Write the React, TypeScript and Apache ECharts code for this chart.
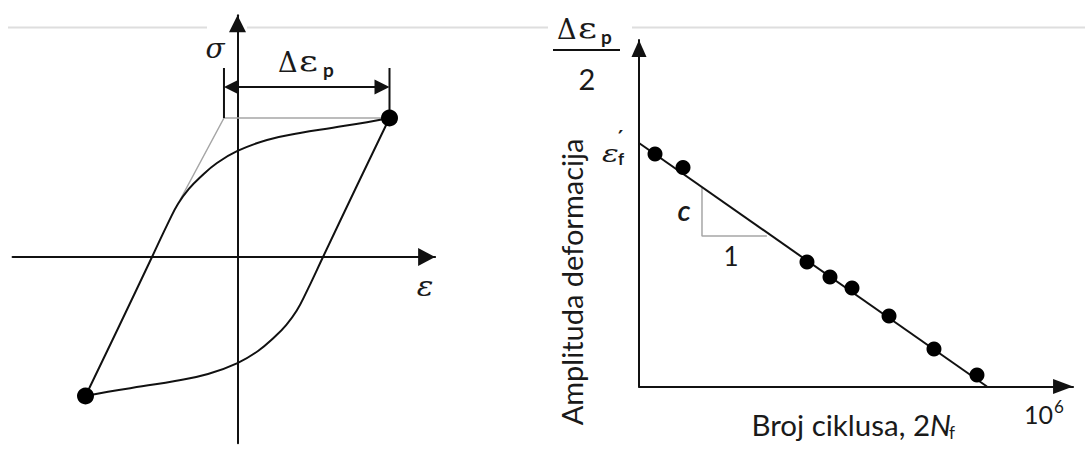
import React, { useEffect, useRef } from "react";
import * as echarts from "echarts";

// ---------- Left diagram: stabilised hysteresis loop (normalised strain ε, stress σ) ----------
const loopRising: [number, number][] = [
  [-1, -1], [-0.78, -0.5], [-0.5625, 0], [-0.45, 0.26], [-0.39, 0.385], [-0.32, 0.49], [-0.247, 0.572],
  [-0.135, 0.676], [0, 0.763], [0.194, 0.842], [0.411, 0.892], [0.628, 0.93], [0.852, 0.97], [1, 1],
];
const loopFalling: [number, number][] = [
  [1, 1], [0.78, 0.5], [0.5625, 0], [0.45, -0.26], [0.39, -0.385], [0.32, -0.49], [0.247, -0.572],
  [0.135, -0.676], [0, -0.763], [-0.194, -0.842], [-0.411, -0.892], [-0.628, -0.93], [-0.852, -0.97], [-1, -1],
];
const loopTips: [number, number][] = [[1, 1], [-1, -1]];
const elasticGuide: [number, number][] = [[1, 1], [-0.089, 1], [-0.378, 0.41]];
const dimTickLeft: [number, number][] = [[-0.089, 1], [-0.089, 1.36]];
const dimTickRight: [number, number][] = [[1, 1], [1, 1.36]];
const dimArrowLevel = 1.223;

// ---------- Right diagram: Coffin–Manson plot (log 2Nf vs log Δεp/2) ----------
const logCycles = [0.238, 0.654, 2.496, 2.838, 3.165, 3.715, 4.383, 5.022];
const logAmplitude = [3.455, 3.254, 1.85, 1.627, 1.464, 1.048, 0.557, 0.171];
const fitLine: [number, number][] = [[0, 3.618], [5.17, 0]];
const slopeTriangle: [number, number][] = [[0.936, 2.95], [0.936, 2.236], [1.9, 2.236]];

// axis extents
const leftX = { min: -1.48, max: 1.3 };
const leftY = { min: -1.34, max: 1.74 };
const rightX = { min: 0, max: 6.45 };
const rightY = { min: 0, max: 5.15 };

const INK = "#111";
const TXT = "#1a1a1a";

function axisStyle(grid: number, r: { min: number; max: number }, arrow: [number, number], onZero: boolean) {
  return {
    type: "value",
    gridIndex: grid,
    min: r.min,
    max: r.max,
    axisLine: {
      show: true,
      onZero,
      symbol: ["none", "triangle"],
      symbolSize: arrow,
      symbolOffset: [0, -arrow[1] / 2],
      lineStyle: { color: INK, width: 2 },
    },
    axisTick: { show: false },
    axisLabel: { show: false },
    splitLine: { show: false },
  };
}

function txt(text: string, x: number, y: number, font: string, align = "left", extra: any = {}) {
  return {
    type: "text",
    x,
    y,
    silent: true,
    ...extra,
    style: { text, font, fill: TXT, textAlign: align, textVerticalAlign: "middle", verticalAlign: "middle" },
  };
}

export default function App() {
  const ref = useRef<HTMLDivElement>(null);
  useEffect(() => {
    if (!ref.current) return;
    const chart = echarts.init(ref.current, null, { renderer: "svg" });
    const pxL = 152, pyL = 139, oxL = 237.5, oyL = 257;
    const pr = 67.3, oxR = 639, oyR = 386.5;
    const arrowHalf = 7.5 / pxL;
    const serif = '"DejaVu Serif", "Liberation Serif", serif';
    const sans = 'Lato, "Open Sans", sans-serif';

    const lineBase = {
      type: "line",
      showSymbol: false,
      symbol: "none",
      silent: true,
      emphasis: { disabled: true },
    };

    chart.setOption({
      animation: false,
      backgroundColor: "#fff",
      grid: [
        {
          left: oxL + leftX.min * pxL,
          width: (leftX.max - leftX.min) * pxL,
          top: oyL - leftY.max * pyL,
          height: (leftY.max - leftY.min) * pyL,
          outerBoundsMode: "none",
          containLabel: false,
        },
        {
          left: oxR,
          width: (rightX.max - rightX.min) * pr,
          top: oyR - rightY.max * pr,
          height: (rightY.max - rightY.min) * pr,
          outerBoundsMode: "none",
          containLabel: false,
        },
      ],
      xAxis: [axisStyle(0, leftX, [18, 17], true), axisStyle(1, rightX, [15, 20], true)],
      yAxis: [axisStyle(0, leftY, [17, 17], true), axisStyle(1, rightY, [15, 17], true)],
      series: [
        { ...lineBase, xAxisIndex: 0, yAxisIndex: 0, data: loopRising, smooth: 0.45, lineStyle: { color: INK, width: 2 } },
        { ...lineBase, xAxisIndex: 0, yAxisIndex: 0, data: loopFalling, smooth: 0.45, lineStyle: { color: INK, width: 2 } },
        { ...lineBase, xAxisIndex: 0, yAxisIndex: 0, data: elasticGuide, z: 1, lineStyle: { color: "#a6a6a6", width: 1.5 } },
        {
          ...lineBase, xAxisIndex: 0, yAxisIndex: 0, data: dimTickLeft, lineStyle: { color: INK, width: 2 },
          markLine: {
            silent: true,
            symbol: ["triangle", "triangle"],
            symbolSize: 15,
            label: { show: false },
            emphasis: { disabled: true },
            lineStyle: { color: INK, width: 2, type: "solid" },
            data: [[
              { coord: [dimTickLeft[0][0] + arrowHalf, dimArrowLevel] },
              { coord: [dimTickRight[0][0] - arrowHalf, dimArrowLevel] },
            ]],
          },
        },
        { ...lineBase, xAxisIndex: 0, yAxisIndex: 0, data: dimTickRight, lineStyle: { color: INK, width: 2 } },
        {
          type: "scatter", xAxisIndex: 0, yAxisIndex: 0, data: loopTips, symbolSize: 17, silent: true,
          itemStyle: { color: "#000", borderWidth: 0, opacity: 1 }, z: 5,
        },
        { ...lineBase, xAxisIndex: 1, yAxisIndex: 1, data: slopeTriangle, lineStyle: { color: "#a6a6a6", width: 1.5 } },
        { ...lineBase, xAxisIndex: 1, yAxisIndex: 1, data: fitLine, clip: false, lineStyle: { color: INK, width: 2 } },
        {
          type: "scatter", xAxisIndex: 1, yAxisIndex: 1, silent: true, z: 5,
          data: logCycles.map((c, i) => [c, logAmplitude[i]]),
          symbolSize: 15,
          itemStyle: { color: "#000", borderWidth: 0, opacity: 1 },
        },
      ],
      graphic: [
        // faint rule across the top
        { type: "line", silent: true, shape: { x1: 8, y1: 27.5, x2: 207, y2: 27.5 }, style: { stroke: "#dedede", lineWidth: 2 } },
        { type: "line", silent: true, shape: { x1: 247, y1: 27.5, x2: 548, y2: 27.5 }, style: { stroke: "#dedede", lineWidth: 2 } },
        { type: "line", silent: true, shape: { x1: 632, y1: 27.5, x2: 1085, y2: 27.5 }, style: { stroke: "#dedede", lineWidth: 2 } },
        // left diagram labels
        txt("σ", 215, 48.5, `italic 28px ${serif}`, "center"),
        txt("Δ", 278, 62, `27px ${serif}`),
        txt("ε", 299, 62, `27px ${serif}`, "left", { scaleX: 1.35 }),
        txt("p", 323, 69, `bold 19px ${sans}`),
        txt("ε", 425, 287, `italic 27px ${serif}`, "center", { scaleX: 1.15 }),
        // right diagram: Δεp / 2
        txt("Δ", 557, 29, `27px ${serif}`),
        txt("ε", 578, 29, `27px ${serif}`, "left", { scaleX: 1.35 }),
        txt("p", 601, 36, `bold 19px ${sans}`),
        { type: "line", silent: true, shape: { x1: 553, y1: 50, x2: 620, y2: 50 }, style: { stroke: INK, lineWidth: 2 } },
        txt("2", 587, 78, `29px ${sans}`, "center"),
        // ε'f
        txt("ε", 602, 154, `italic 25px ${serif}`, "left", { scaleX: 1.25 }),
        txt("′", 618, 137, `bold 20px "DejaVu Sans", sans-serif`),
        txt("f", 618, 158, `bold 17px ${sans}`),
        // slope
        txt("c", 684, 209, `italic 600 29px ${sans}`, "center"),
        txt("1", 731, 256, `26px ${sans}`, "center"),
        // axis titles
        txt("Amplituda deformacija", 571, 282, `29px ${sans}`, "center", { rotation: Math.PI / 2 }),
        txt("Broj ciklusa, 2", 930, 424, `29.5px ${sans}`, "right"),
        txt("N", 930, 424, `italic 29.5px ${sans}`),
        txt("f", 949, 432, `17px ${sans}`),
        txt("10", 1053, 414, `25px ${sans}`, "right"),
        txt("6", 1054, 406, `17px ${sans}`),
      ],
    });
    return () => chart.dispose();
  }, []);
  return <div ref={ref} style={{ position: "absolute", left: 0, top: 0, width: 1085, height: 463, background: "#fff" }} />;
}
